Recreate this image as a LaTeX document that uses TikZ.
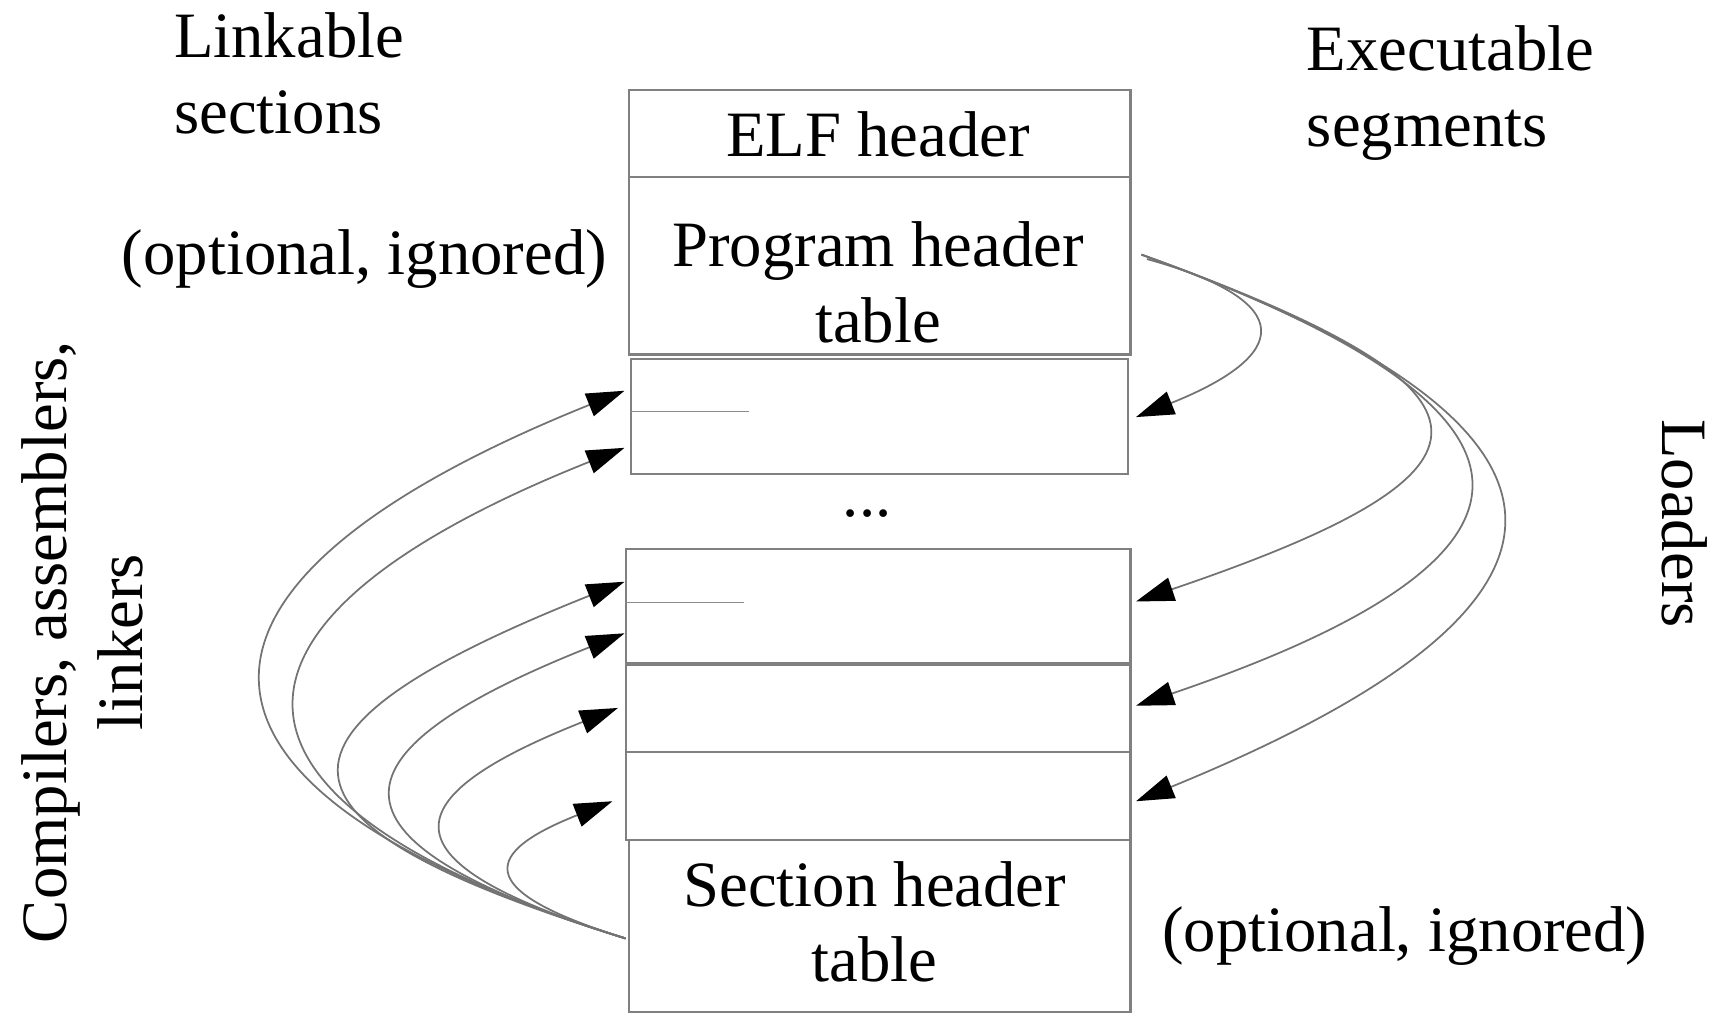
\documentclass[tikz,border=0pt]{standalone}
\usepackage{fontspec}
\setmainfont{Liberation Serif}
\usetikzlibrary{arrows.meta,fit}
\begin{document}
\begin{tikzpicture}[x=0.010976cm,y=-0.010976cm,
  box/.style={draw=black!50,line width=0.6pt,inner sep=0pt},
  lbl/.style={font=\fontsize{18.4}{21.5}\selectfont,align=center,inner sep=0pt},
  conn/.style={draw=black!55,line width=0.5pt,-{Triangle[length=0.38cm,width=0.24cm,color=black]}},
  tick/.style={draw=black!45,line width=0.5pt}]
\useasboundingbox (0,0) rectangle (1568,925);

% file layout boxes
\node[box,fit={(573,82) (1030,161)}]  (elf) {};
\node[box,fit={(573,161) (1030,323)}] (pht) {};
\node[box,fit={(575,327) (1028,432)}] (seg1) {};
\node[box,fit={(570,500) (1030,604)}] (seg2) {};
\node[box,fit={(570,606) (1030,685)}] (seg3) {};
\node[box,fit={(570,685) (1030,765)}] (seg4) {};
\node[box,fit={(573,765) (1030,922)}] (sht) {};

% section boundaries inside segments
\draw[tick] (seg1.west |- 0,375) -- (682,375);
\draw[tick] (seg2.west |- 0,549) -- (678,549);

% labels
\node[lbl] (elft) at (800,122) {ELF header};
\node[lbl] (phtt) at (800,257) {Program header\\table};
\node[lbl] (dots) at (790,468) {...};
\node[lbl] (shtt) at (797,840) {Section header\\table};
\node[lbl,anchor=west,align=left] (link) at (158,67) {Linkable\\sections};
\node[lbl,anchor=west,align=left] (exec) at (1190,85) {Executable\\segments};
\node[lbl] (optl) at (332,236) {(optional, ignored)};
\node[lbl] (optr) at (1280,853) {(optional, ignored)};
\node[lbl,rotate=-90] (load) at (1535,477) {Loaders};
\node[lbl,rotate=90] (comp) at (75,585) {Compilers, assemblers,\\linkers};

% connector end points
\coordinate (ps)  at (1040,232);
\coordinate (ps1) at (1045,236);
\coordinate (r1) at (1035,380);
\coordinate (r2) at (1035,548);
\coordinate (r3) at (1035,643);
\coordinate (r4) at (1035,730);
\coordinate (ss) at (570,855);
\coordinate (l1) at (569,356);
\coordinate (l2) at (569,408);
\coordinate (l3) at (569,530);
\coordinate (l4) at (569,577);
\coordinate (l5) at (563,645);
\coordinate (l6) at (558,730);

% loaders: program header table -> segments
\draw[conn] (ps1) .. controls (1185,275) and (1175,324) .. (r1);
\draw[conn] (ps) .. controls (1390,358) and (1385,429) .. (r2);
\draw[conn] (ps) .. controls (1440,376) and (1435,507) .. (r3);
\draw[conn] (ps) .. controls (1480,390) and (1475,550) .. (r4);

% linkers: section header table -> sections
\draw[conn] (ss) .. controls (131,719) and (129,533) .. (l1);
\draw[conn] (ss) .. controls (172,732) and (170,567) .. (l2);
\draw[conn] (ss) .. controls (227,749) and (225,667) .. (l3);
\draw[conn] (ss) .. controls (289,768) and (287,689) .. (l4);
\draw[conn] (ss) .. controls (354,788) and (346,731) .. (l5);
\draw[conn] (ss) .. controls (442,815) and (429,781) .. (l6);
\end{tikzpicture}
\end{document}
